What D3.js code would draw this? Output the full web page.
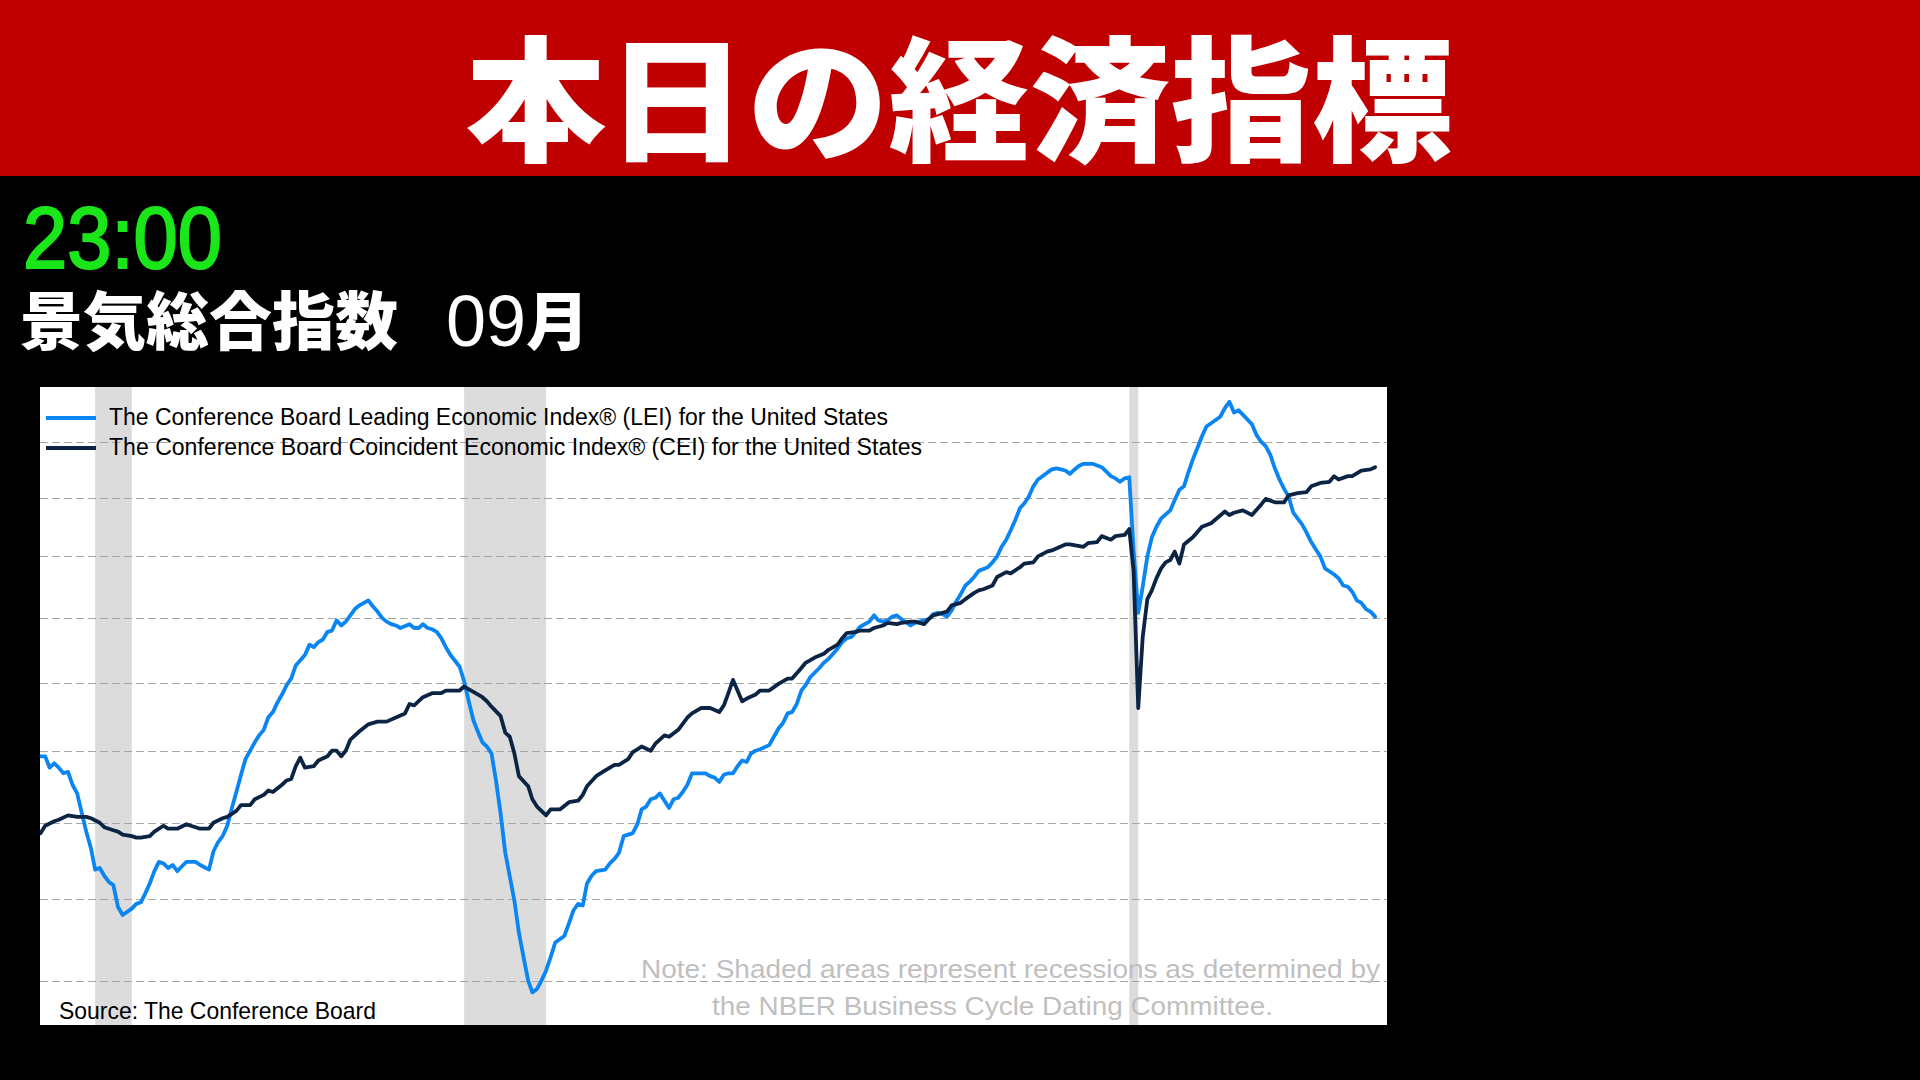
<!DOCTYPE html>
<html>
<head>
<meta charset="utf-8">
<title>景気総合指数 09月</title>
<script src="https://cdn.jsdelivr.net/npm/d3@7"></script>
<style>
  html, body { margin: 0; padding: 0; background: #000; }
  svg { display: block; }
</style>
</head>
<body>
<script>
// values (log scale, monthly)
const leiDates = ["2000-03","2000-04","2000-05","2000-06","2000-07","2000-08","2000-09","2000-10","2000-11","2000-12",
  "2001-01","2001-02","2001-03","2001-04","2001-05","2001-06","2001-07","2001-08","2001-09","2001-11","2001-12",
  "2002-01","2002-02","2002-03","2002-04","2002-05","2002-06","2002-07","2002-08","2002-09","2002-10","2002-11",
  "2003-01","2003-02","2003-04","2003-05","2003-06","2003-07","2003-08","2003-09","2003-10","2003-11","2003-12",
  "2004-02","2004-03","2004-04","2004-05","2004-06","2004-07","2004-08","2004-09","2004-10","2004-11",
  "2005-01","2005-02","2005-03","2005-04","2005-05","2005-06","2005-07","2005-08","2005-09","2005-10","2005-11","2005-12",
  "2006-01","2006-03","2006-04","2006-05","2006-06","2006-07","2006-08","2006-09","2006-10","2006-12",
  "2007-01","2007-02","2007-03","2007-04","2007-05","2007-06","2007-07","2007-08","2007-09","2007-11","2007-12",
  "2008-01","2008-02","2008-03","2008-04","2008-05","2008-06","2008-07","2008-08","2008-09","2008-11","2008-12",
  "2009-01","2009-02","2009-03","2009-04","2009-05","2009-06","2009-07","2009-08","2009-10","2009-11","2009-12",
  "2010-01","2010-02","2010-03","2010-04","2010-05","2010-07","2010-08","2010-09","2010-10","2010-11",
  "2011-01","2011-02","2011-03","2011-04","2011-05","2011-06","2011-07","2011-08","2011-09","2011-10","2011-11","2011-12",
  "2012-01","2012-02","2012-04","2012-05","2012-06","2012-07","2012-08","2012-09","2012-10","2012-11","2012-12",
  "2013-01","2013-02","2013-03","2013-04","2013-05","2013-07","2013-08","2013-09","2013-10","2013-11","2013-12",
  "2014-01","2014-02","2014-03","2014-04","2014-06","2014-07","2014-08","2014-09","2014-10","2014-11","2014-12",
  "2015-01","2015-02","2015-03","2015-05","2015-06","2015-07","2015-08","2015-09","2015-10","2015-11","2015-12",
  "2016-02","2016-03","2016-04","2016-06","2016-07","2016-08","2016-09","2016-10","2016-11","2016-12",
  "2017-01","2017-02","2017-03","2017-04","2017-05","2017-07","2017-08","2017-09","2017-10","2017-11","2017-12",
  "2018-01","2018-02","2018-03","2018-04","2018-05","2018-06","2018-07","2018-09","2018-10","2018-11","2018-12",
  "2019-01","2019-02","2019-03","2019-04","2019-05","2019-06","2019-08","2019-09","2019-10","2019-11","2019-12",
  "2020-01","2020-02","2020-03","2020-04","2020-05","2020-06","2020-07","2020-08","2020-09","2020-11","2020-12",
  "2021-01","2021-02","2021-03","2021-04","2021-05","2021-06","2021-07","2021-08","2021-10","2021-11","2021-12",
  "2022-01","2022-02","2022-03","2022-05","2022-06","2022-07","2022-08","2022-09","2022-10","2022-11","2022-12",
  "2023-01","2023-02","2023-04","2023-05","2023-06","2023-07","2023-08","2023-09","2023-11","2023-12",
  "2024-01","2024-02","2024-03","2024-04","2024-05","2024-06","2024-07","2024-08"];
const leiValues = [89.6,89.6,88.8,89.1,88.8,88.4,88.5,87.6,87.0,85.7,
  84.4,83.3,81.9,82.0,81.5,81.1,80.9,79.5,79.0,79.4,79.7,
  79.8,80.4,81.0,81.8,82.4,82.3,82.0,82.2,81.8,82.1,82.4,
  82.4,82.2,81.9,83.1,83.7,84.1,84.8,86.0,87.1,88.3,89.4,
  90.6,91.1,91.5,92.4,92.8,93.5,94.1,94.8,95.3,96.3,
  97.1,97.9,97.7,98.1,98.3,98.9,99.0,99.8,99.4,99.7,100.2,100.7,
  101.0,101.4,100.9,100.5,100.0,99.7,99.5,99.4,99.2,99.5,
  99.2,99.2,99.5,99.2,99.1,98.9,98.4,97.7,97.1,96.2,95.1,
  93.6,92.2,91.4,90.6,90.3,89.8,87.9,85.6,83.0,79.9,77.9,
  76.4,75.0,74.3,74.5,75.0,75.6,76.4,77.3,77.7,78.5,79.3,
  79.7,79.6,81.0,81.5,81.8,81.9,82.3,82.6,83.0,84.1,
  84.3,84.9,85.9,86.1,86.6,86.7,87.0,86.5,86.0,86.6,86.7,87.1,
  87.6,88.4,88.4,88.4,88.2,88.1,87.8,88.3,88.4,88.4,88.9,
  89.3,89.2,89.8,90.0,90.1,90.4,91.0,91.6,92.0,92.7,92.8,
  93.4,94.4,94.8,95.4,96.1,96.5,96.8,97.2,97.6,98.1,98.4,
  98.5,98.9,99.3,99.7,100.2,99.8,99.7,99.8,100.1,100.2,99.9,
  99.4,99.6,99.7,99.9,100.3,100.4,100.3,100.1,100.6,101.3,
  101.9,102.6,102.9,103.3,103.8,104.1,104.5,105.0,105.8,106.4,107.2,
  108.1,109.1,109.5,110.1,111.0,111.6,111.9,112.5,112.6,112.5,112.4,
  112.1,112.5,112.8,113.0,113.0,113.0,112.7,112.3,111.9,111.7,111.4,
  111.7,111.8,105.5,100.4,102.5,105.0,106.6,107.5,108.2,108.9,109.8,
  110.7,111.0,112.2,113.4,114.4,115.5,116.4,116.7,117.3,118.1,118.7,
  117.7,117.9,117.5,116.6,115.6,115.0,114.6,113.8,112.6,111.6,110.8,
  110.1,108.7,107.7,107.0,106.2,105.6,105.0,104.0,103.5,103.2,
  102.6,102.5,102.1,101.4,101.2,100.7,100.5,100.1];

const ceiDates = ["2000-03","2000-04","2000-06","2000-07","2000-09","2000-11",
  "2001-01","2001-02","2001-04","2001-05","2001-07","2001-08","2001-09","2001-11","2001-12",
  "2002-01","2002-03","2002-04","2002-06","2002-07","2002-08","2002-09","2002-11","2002-12",
  "2003-02","2003-04","2003-05","2003-07","2003-08","2003-10","2003-11",
  "2004-01","2004-02","2004-04","2004-05","2004-06","2004-08","2004-09","2004-10","2004-11","2004-12",
  "2005-01","2005-03","2005-04","2005-06","2005-07","2005-08","2005-09","2005-10","2005-11",
  "2006-01","2006-03","2006-05","2006-07","2006-09","2006-11","2006-12",
  "2007-01","2007-03","2007-05","2007-07","2007-08","2007-11","2007-12",
  "2008-02","2008-04","2008-05","2008-06","2008-08","2008-09","2008-10","2008-11","2008-12",
  "2009-02","2009-03","2009-04","2009-06","2009-07","2009-09","2009-11",
  "2010-01","2010-02","2010-03","2010-05","2010-07","2010-09","2010-10","2010-12",
  "2011-01","2011-02","2011-03","2011-05","2011-06","2011-08","2011-09","2011-11",
  "2012-01","2012-02","2012-04","2012-06","2012-08","2012-09","2012-10","2012-11",
  "2013-01","2013-02","2013-04","2013-05","2013-07","2013-09","2013-11","2013-12",
  "2014-02","2014-03","2014-05","2014-07","2014-08","2014-10","2014-11","2014-12",
  "2015-02","2015-03","2015-05","2015-06","2015-08","2015-09","2015-11","2015-12",
  "2016-02","2016-03","2016-05","2016-06","2016-07","2016-09","2016-10","2016-11",
  "2017-01","2017-02","2017-04","2017-05","2017-06","2017-08","2017-09","2017-11","2017-12",
  "2018-02","2018-03","2018-05","2018-06","2018-08","2018-09","2018-12",
  "2019-01","2019-04","2019-05","2019-07","2019-08","2019-10","2019-11",
  "2020-01","2020-02","2020-03","2020-04","2020-05","2020-06","2020-07","2020-08","2020-09","2020-10","2020-11","2020-12",
  "2021-01","2021-02","2021-04","2021-06","2021-08","2021-11","2021-12",
  "2022-01","2022-03","2022-05","2022-07","2022-08","2022-10","2022-12",
  "2023-01","2023-03","2023-05","2023-06","2023-08","2023-10","2023-11","2023-12",
  "2024-02","2024-03","2024-05","2024-07","2024-08"];
const ceiValues = [84.3,84.8,85.1,85.2,85.5,85.4,
  85.4,85.3,85.0,84.7,84.5,84.4,84.2,84.1,84.0,
  84.0,84.1,84.4,84.8,84.6,84.6,84.6,84.9,84.8,
  84.6,84.6,85.0,85.3,85.4,85.8,86.2,
  86.2,86.6,86.9,87.2,87.1,87.6,87.9,88.0,88.9,89.5,
  88.8,88.9,89.3,89.6,90.0,90.0,89.6,90.0,90.8,
  91.4,91.9,92.1,92.1,92.4,92.7,93.4,
  93.3,93.9,94.2,94.2,94.4,94.4,94.7,
  94.3,93.9,93.6,93.2,92.5,91.3,91.0,89.8,88.2,
  87.5,86.6,86.1,85.5,85.9,85.9,86.4,
  86.5,86.9,87.5,88.2,88.6,89.0,89.0,89.4,
  89.9,90.1,90.3,90.0,90.5,91.1,91.0,91.5,
  92.4,92.7,93.1,93.1,92.8,93.3,94.2,95.2,
  93.6,93.8,94.1,94.4,94.4,94.9,95.3,95.3,
  96.1,96.5,96.9,97.2,97.5,97.9,98.4,98.8,
  98.9,99.0,99.0,99.2,99.4,99.6,99.5,99.6,
  99.7,99.7,99.5,99.9,100.2,100.4,100.5,101.0,
  101.2,101.5,102.0,102.2,102.3,102.6,103.3,103.7,103.6,
  104.1,104.4,104.5,105.0,105.4,105.5,106.0,
  106.0,105.8,106.1,106.2,106.7,106.4,106.7,
  106.8,107.3,103.8,93.1,98.5,101.5,102.2,103.2,104.0,104.5,104.7,105.4,
  104.4,106.0,106.6,107.5,107.8,108.8,108.5,
  108.7,108.9,108.5,109.4,109.9,109.6,109.6,
  110.2,110.4,110.5,111.0,111.3,111.4,111.9,111.6,
  111.9,111.9,112.4,112.5,112.7];

// NBER recessions, peak month to trough month
const recessionStarts = ["2001-03", "2007-12", "2020-02"];
const recessionEnds = ["2001-11", "2009-06", "2020-04"];

const gridValues = [75, 80, 85, 90, 95, 100, 105, 110, 115];

const seriesNames = [
  "The Conference Board Leading Economic Index\u00ae (LEI) for the United States",
  "The Conference Board Coincident Economic Index\u00ae (CEI) for the United States"
];
const seriesColors = ["#0a85f2", "#0c2444"];

// page geometry
const W = 1920, H = 1080;
const box = {left: 40, top: 387, right: 1387, bottom: 1025};

const parse = d3.timeParse("%Y-%m");

const svg = d3.select("body").append("svg")
  .attr("width", W)
  .attr("height", H);

svg.append("rect").attr("width", W).attr("height", H).attr("fill", "#000");

// red header
svg.append("rect")
  .attr("x", 0).attr("y", 0)
  .attr("width", W).attr("height", 176)
  .attr("fill", "#c00000");

// title is a little wider than the font, so stretch it sideways
svg.append("text")
  .attr("transform", "translate(959,151) scale(1.045,1)")
  .attr("text-anchor", "middle")
  .style("font-family", "'Noto Sans CJK JP'")
  .style("font-weight", 900)
  .style("font-size", "135px")
  .attr("fill", "#fff")
  .text("本日の経済指標");

// time + indicator name (thin outline gives a medium weight)
svg.append("text")
  .attr("x", 23)
  .attr("y", 268)
  .attr("textLength", 199)
  .attr("lengthAdjust", "spacingAndGlyphs")
  .style("font-family", "'Liberation Sans', Arial, sans-serif")
  .style("font-size", "88px")
  .attr("fill", "#1ae61a")
  .attr("stroke", "#1ae61a")
  .attr("stroke-width", 2.2)
  .text("23:00");

svg.append("text")
  .attr("x", 20)
  .attr("y", 344)
  .style("font-family", "'Noto Sans CJK JP'")
  .style("font-weight", 900)
  .style("font-size", "63px")
  .attr("fill", "#fff")
  .text("景気総合指数");

let sub = svg.append("text")
  .attr("x", 446)
  .attr("y", 346)
  .attr("fill", "#fff");
sub.append("tspan")
  .style("font-family", "'Liberation Sans', Arial, sans-serif")
  .style("font-size", "72px")
  .text("09");
sub.append("tspan")
  .style("font-family", "'Noto Sans CJK JP'")
  .style("font-weight", 900)
  .style("font-size", "63px")
  .attr("dy", -2)
  .text("月");

// chart panel
svg.append("rect")
  .attr("x", box.left).attr("y", box.top)
  .attr("width", box.right - box.left)
  .attr("height", box.bottom - box.top)
  .attr("fill", "#fff");

svg.append("clipPath").attr("id", "plot")
  .append("rect")
  .attr("x", box.left).attr("y", box.top)
  .attr("width", box.right - box.left)
  .attr("height", box.bottom - box.top);

const xScale = d3.scaleTime()
  .domain([parse("2000-03"), parse("2024-08")])
  .range([40.5, 1375.1]);

const yScale = d3.scaleLog()
  .domain([72.4, 120.1])
  .range([box.bottom, box.top]);

const plot = svg.append("g").attr("clip-path", "url(#plot)");

// recession shading
plot.selectAll(".rec")
  .data(recessionStarts)
  .enter()
  .append("rect")
  .attr("class", "rec")
  .attr("x", d => xScale(parse(d)))
  .attr("y", box.top)
  .attr("width", (d, i) => xScale(parse(recessionEnds[i])) - xScale(parse(d)))
  .attr("height", box.bottom - box.top)
  .attr("fill", "#dcdcdc");

// dashed gridlines
plot.selectAll(".grid")
  .data(gridValues)
  .enter()
  .append("line")
  .attr("class", "grid")
  .attr("x1", box.left).attr("x2", box.right)
  .attr("y1", d => Math.round(yScale(d)) + 0.5)
  .attr("y2", d => Math.round(yScale(d)) + 0.5)
  .attr("stroke", "#a6a6a6")
  .attr("stroke-width", 1.2)
  .attr("stroke-dasharray", "8,4");

// note text
const noteLines = ["Note: Shaded areas represent recessions as determined by",
                   "the NBER Business Cycle Dating Committee."];
const noteX = [641, 712];
const noteY = [978, 1015];
const noteLen = [739, 561];
svg.selectAll(".note")
  .data(noteLines)
  .enter()
  .append("text")
  .attr("class", "note")
  .attr("x", (d, i) => noteX[i])
  .attr("y", (d, i) => noteY[i])
  .attr("textLength", (d, i) => noteLen[i])
  .attr("lengthAdjust", "spacingAndGlyphs")
  .style("font-family", "'Liberation Sans', Arial, sans-serif")
  .style("font-size", "26.5px")
  .attr("fill", "#bfbfbf")
  .text(d => d);

// the two index lines
const line = d3.line()
  .x(d => xScale(d.date))
  .y(d => yScale(d.value))
  .curve(d3.curveLinear);

const series = [
  leiDates.map((d, i) => ({date: parse(d), value: leiValues[i]})),
  ceiDates.map((d, i) => ({date: parse(d), value: ceiValues[i]}))
];

plot.selectAll(".series")
  .data(series)
  .enter()
  .append("path")
  .attr("class", "series")
  .attr("d", line)
  .attr("fill", "none")
  .attr("stroke", (d, i) => seriesColors[i])
  .attr("stroke-width", 3.8)
  .attr("stroke-linejoin", "round")
  .attr("stroke-linecap", "round");

// legend
const legendY = [418, 448];
const legendLen = [779, 813];
const legend = svg.selectAll(".legend")
  .data(seriesNames)
  .enter()
  .append("g")
  .attr("class", "legend");

legend.append("line")
  .attr("x1", 46).attr("x2", 96)
  .attr("y1", (d, i) => legendY[i])
  .attr("y2", (d, i) => legendY[i])
  .attr("stroke", (d, i) => seriesColors[i])
  .attr("stroke-width", 4);

legend.append("text")
  .attr("x", 109)
  .attr("y", (d, i) => legendY[i] + 7)
  .attr("textLength", (d, i) => legendLen[i])
  .attr("lengthAdjust", "spacingAndGlyphs")
  .style("font-family", "'Liberation Sans', Arial, sans-serif")
  .style("font-size", "23px")
  .attr("fill", "#000")
  .text(d => d);

// source
svg.append("text")
  .attr("x", 59)
  .attr("y", 1019)
  .attr("textLength", 317)
  .attr("lengthAdjust", "spacingAndGlyphs")
  .style("font-family", "'Liberation Sans', Arial, sans-serif")
  .style("font-size", "24px")
  .attr("fill", "#000")
  .text("Source: The Conference Board");
</script>
</body>
</html>
